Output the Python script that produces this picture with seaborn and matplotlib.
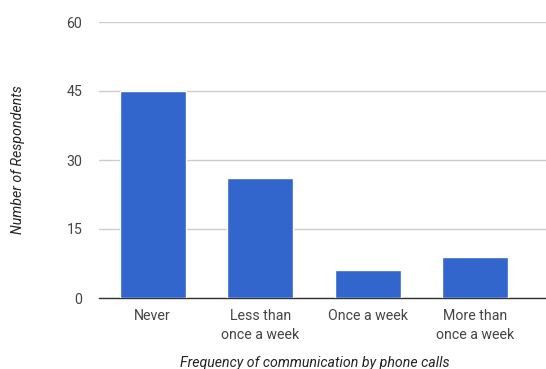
import matplotlib
matplotlib.use("Agg")
import matplotlib.pyplot as plt
import seaborn as sns
import pandas as pd

categories = ["Never", "Less than\nonce a week", "Once a week", "More than\nonce a week"]
respondents = [45, 26, 6, 9]
y_ticks = [0, 15, 30, 45, 60]

sns.set_style("white")
plt.rcParams["font.family"] = ["Roboto", "DejaVu Sans"]

df = pd.DataFrame({"category": categories, "count": respondents})

fig = plt.figure(figsize=(5.46, 3.69), dpi=100)
ax = fig.add_axes([99 / 546, 1 - 298 / 369, 447 / 546, 276 / 369])

sns.barplot(data=df, x="category", y="count", color="#3366CC", saturation=1,
            width=0.615, ax=ax, zorder=3)

ax.set_ylim(0, 60)
ax.set_xlim(-0.5, 3.66)
ax.set_yticks(y_ticks)
ax.set_yticklabels([str(t) for t in y_ticks])
ax.yaxis.grid(True, color="#cccccc", linewidth=1, zorder=0)
ax.tick_params(axis="both", length=0, labelsize=10.2, labelcolor="#444444")
ax.tick_params(axis="y", pad=12)
ax.tick_params(axis="x", pad=8)
for lbl in ax.get_xticklabels():
    lbl.set_linespacing(1.45)

for side in ["top", "right", "left"]:
    ax.spines[side].set_visible(False)
ax.spines["bottom"].set_color("#333333")
ax.spines["bottom"].set_linewidth(1)

ax.set_xlabel("Frequency of communication by phone calls", fontsize=10.2,
              style="italic", color="#222222", labelpad=14)
ax.xaxis.set_label_coords(0.483, -0.21)
ax.set_ylabel("Number of Respondents", fontsize=10.2, style="italic",
              color="#222222", labelpad=30)

fig.savefig("out.png", dpi=100)
